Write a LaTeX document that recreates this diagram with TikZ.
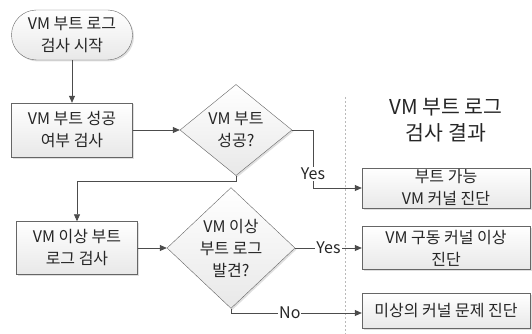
\documentclass[tikz,border=0pt]{standalone}
\usepackage{fontspec}
\setmainfont{Noto Sans CJK KR}
\usetikzlibrary{shapes.geometric,shadows,arrows.meta}

\tikzset{
  procbox/.style={draw=gray!80!black,top color=white,bottom color=gray!18,
    drop shadow={opacity=0.25,shadow xshift=1.5pt,shadow yshift=-1.5pt},
    align=center,inner sep=0pt,text=black!85,font=\fontsize{16}{22}\selectfont},
  decision/.style={diamond,draw=gray!80!black,top color=white,bottom color=gray!18,
    drop shadow={opacity=0.25,shadow xshift=1.5pt,shadow yshift=-1.5pt},
    align=center,inner sep=0pt,text=black!85,font=\fontsize{16}{22}\selectfont},
  flow/.style={draw=gray!60!black,line width=0.7pt},
  flowarr/.style={flow,-{Triangle[length=7pt,width=6pt]}},
  flowlbl/.style={fill=white,inner sep=1pt,text=black!85,font=\fontsize{16}{18}\selectfont}
}

\begin{document}
\begin{tikzpicture}[x=1pt,y=-1pt]
  \useasboundingbox (0,0) rectangle (532,334);

  % left column: checks
  \node[procbox,rounded corners=25pt,minimum width=121pt,minimum height=50pt] (start) at (72,35) {VM 부트 로그\\검사 시작};
  \node[procbox,minimum width=121pt,minimum height=54pt] (bootchk) at (72,130) {VM 부트 성공\\여부 검사};
  \node[decision,minimum width=112pt,minimum height=84pt] (bootok) at (236,130) {VM 부트\\성공?};
  \node[procbox,minimum width=121pt,minimum height=53pt] (logchk) at (77,248) {VM 이상 부트\\로그 검사};
  \node[decision,minimum width=128pt,minimum height=106pt] (logfound) at (231,248) {VM 이상\\부트 로그\\발견?};

  % separator
  \draw[gray!55,dashed,line width=0.8pt,dash pattern=on 2pt off 2pt] (345,97) -- (345,334);

  % right column: results
  \node[align=center,text=black!85,font=\fontsize{20.5}{26}\selectfont] (restitle) at (446,120) {VM 부트 로그\\검사 결과};
  \node[procbox,minimum width=168pt,minimum height=40pt] (kernok) at (446,188) {부트 가능\\VM 커널 진단};
  \node[procbox,minimum width=168pt,minimum height=43pt] (kernbad) at (446,248) {VM 구동 커널 이상\\진단};
  \node[procbox,minimum width=168pt,minimum height=35pt] (kernunk) at (446,311) {미상의 커널 문제 진단};

  \coordinate (yesturn) at (313,188);
  \coordinate (joint) at (236,181);
  \coordinate (noturn) at (231,313);

  \draw[flowarr] (start) -- (bootchk);
  \draw[flowarr] (bootchk) -- (bootok);
  \draw[flowarr] (bootok.east) -| (yesturn) node[flowlbl,pos=0.88] {Yes} -- (kernok.west);
  \draw[flowarr] (bootok.south) -- (joint) -| (logchk.north);
  \draw[flowarr] (logchk) -- (logfound);
  \draw[flowarr] (logfound.east) -- node[flowlbl] {Yes} (kernbad.west);
  \draw[flowarr] (logfound.south) -- (noturn) -- node[flowlbl,pos=0.45] {No} (noturn -| kernunk.west);
\end{tikzpicture}
\end{document}
